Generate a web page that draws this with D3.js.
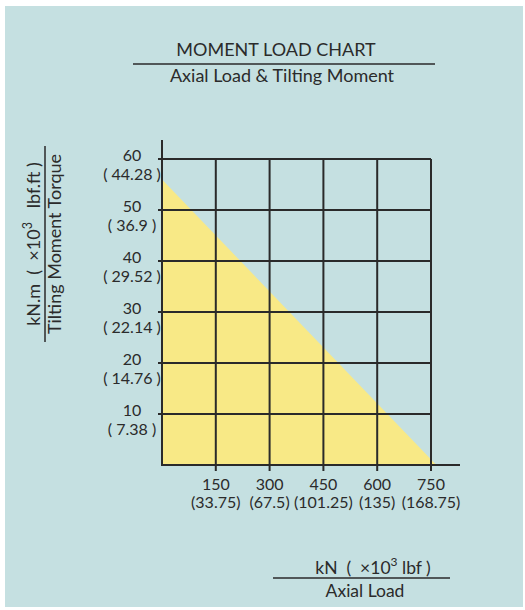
<!DOCTYPE html>
<html lang="en">
<head>
    <meta charset="UTF-8">
    <title>Moment Load Chart</title>
    <style>
        body { margin: 0; background: #fff; }
        text { font-family: Lato, "Open Sans", sans-serif; fill: #2b2b2b; white-space: pre; }
    </style>
</head>
<body>
<script src="https://cdn.jsdelivr.net/npm/d3@7"></script>
<script>
    // axial load ticks (kN) and their lbf equivalents (x10^3)
    var xTicks = [150, 300, 450, 600, 750];
    var xTickLbf = ['(33.75)', '(67.5)', '(101.25)', '(135)', '(168.75)'];
    // tilting moment ticks (kN.m) and lbf.ft equivalents (x10^3)
    var yTicks = [10, 20, 30, 40, 50, 60];
    var yTickLbf = ['( 7.38 )', '( 14.76 )', '( 22.14 )', '( 29.52 )', '( 36.9 )', '( 44.28 )'];
    // limit line of the permissible load area
    var limitAxial = [0, 765];
    var limitMoment = [56, 0];

    var svg = d3.select('body').append('svg')
            .attr('width', 525)
            .attr('height', 610);

    svg.append('rect')
            .attr('x', 5).attr('y', 6)
            .attr('width', 518).attr('height', 601)
            .attr('fill', '#c5e0e1');

    var x = d3.scaleLinear().domain([0, 750]).range([162, 431]);
    var y = d3.scaleLinear().domain([0, 60]).range([465, 159]);

    // yellow area
    var area = d3.area()
            .x(function (d) { return x(d[0]); })
            .y0(y(0))
            .y1(function (d) { return y(d[1]); });
    svg.append('path')
            .datum(d3.zip(limitAxial, limitMoment))
            .attr('d', area)
            .attr('fill', '#f8e986');

    var stroke = '#2a2a2a';
    var grid = svg.append('g').attr('stroke', stroke).attr('stroke-width', 2);

    // horizontal grid lines + ticks
    grid.selectAll('.hl').data(yTicks).enter().append('line')
            .attr('x1', 158).attr('x2', x(750))
            .attr('y1', function (d) { return y(d); })
            .attr('y2', function (d) { return y(d); });
    // vertical grid lines + ticks
    grid.selectAll('.vl').data(xTicks).enter().append('line')
            .attr('x1', function (d) { return x(d); })
            .attr('x2', function (d) { return x(d); })
            .attr('y1', y(60)).attr('y2', 471);
    // axes
    grid.append('line').attr('x1', x(0)).attr('x2', x(0)).attr('y1', 140).attr('y2', 466);
    grid.append('line').attr('x1', 161).attr('x2', 460).attr('y1', y(0)).attr('y2', y(0));

    // y tick labels
    var yl = svg.selectAll('.yl').data(yTicks).enter().append('g');
    yl.append('text')
            .attr('x', 132).attr('y', function (d) { return y(d) + 2; })
            .attr('text-anchor', 'middle').attr('font-size', 16)
            .text(function (d) { return d; });
    yl.append('text')
            .attr('x', 132).attr('y', function (d) { return y(d) + 21; })
            .attr('text-anchor', 'middle').attr('font-size', 16)
            .text(function (d, i) { return yTickLbf[i]; });

    // x tick labels
    var xl = svg.selectAll('.xl').data(xTicks).enter().append('g');
    xl.append('text')
            .attr('x', function (d) { return x(d); }).attr('y', 490)
            .attr('text-anchor', 'middle').attr('font-size', 16)
            .text(function (d) { return d; });
    xl.append('text')
            .attr('x', function (d) { return x(d); }).attr('y', 508)
            .attr('text-anchor', 'middle').attr('font-size', 16)
            .text(function (d, i) { return xTickLbf[i]; });

    // title
    svg.append('text').attr('x', 276).attr('y', 56)
            .attr('text-anchor', 'middle').attr('font-size', 18)
            .text('MOMENT LOAD CHART');
    svg.append('line').attr('x1', 133).attr('x2', 435).attr('y1', 64).attr('y2', 64)
            .attr('stroke', stroke).attr('stroke-width', 1.5);
    svg.append('text').attr('x', 282).attr('y', 82)
            .attr('text-anchor', 'middle').attr('font-size', 18)
            .text('Axial Load & Tilting Moment');

    // y axis title
    var yt = svg.append('g').attr('transform', 'translate(0,244) rotate(-90)');
    var t1 = yt.append('text').attr('x', 0).attr('y', 40)
            .attr('text-anchor', 'middle').attr('font-size', 18);
    t1.append('tspan').text('kN.m  (  ×10');
    t1.append('tspan').attr('dy', -8).attr('font-size', 12.5).text('3');
    t1.append('tspan').attr('dy', 8).text('   lbf.ft )');
    yt.append('line').attr('x1', -98).attr('x2', 98).attr('y1', 45).attr('y2', 45)
            .attr('stroke', stroke).attr('stroke-width', 1.5);
    yt.append('text').attr('x', 0).attr('y', 61)
            .attr('text-anchor', 'middle').attr('font-size', 18)
            .text('Tilting Moment Torque');

    // x axis title
    var t2 = svg.append('text').attr('x', 373).attr('y', 574)
            .attr('text-anchor', 'middle').attr('font-size', 17.5);
    t2.append('tspan').text('kN  (  ×10');
    t2.append('tspan').attr('dy', -8).attr('font-size', 12).text('3');
    t2.append('tspan').attr('dy', 8).text(' lbf )');
    svg.append('line').attr('x1', 273).attr('x2', 450).attr('y1', 578).attr('y2', 578)
            .attr('stroke', stroke).attr('stroke-width', 1.5);
    svg.append('text').attr('x', 365).attr('y', 597)
            .attr('text-anchor', 'middle').attr('font-size', 17.5)
            .text('Axial Load');
</script>
</body>
</html>
